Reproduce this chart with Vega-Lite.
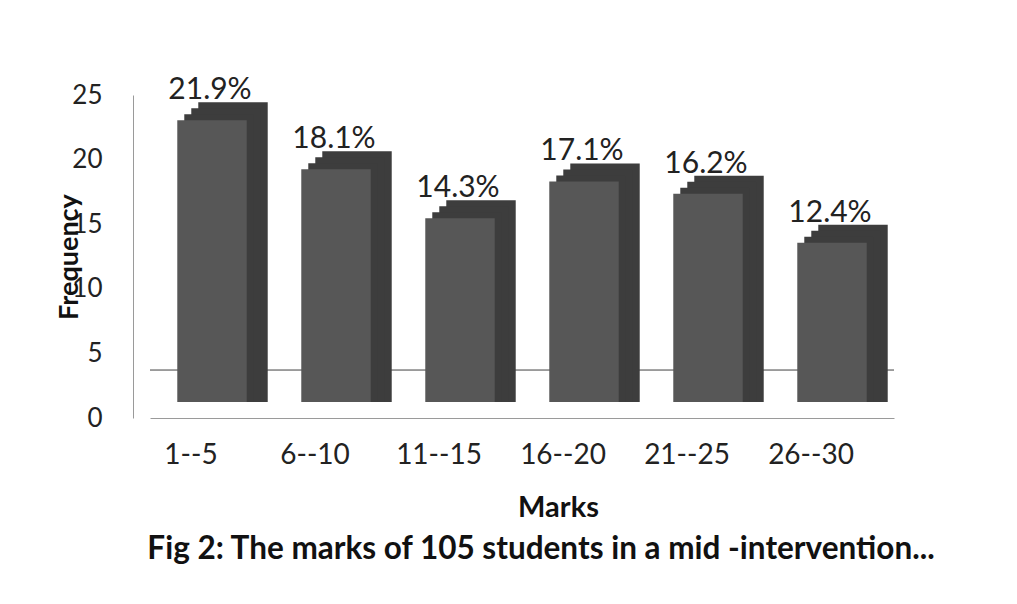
{
  "$schema": "https://vega.github.io/schema/vega-lite/v6.json",
  "width": 744,
  "height": 323,
  "autosize": {"type": "none"},
  "padding": {"left": 150, "top": 95, "right": 123, "bottom": 186},
  "background": "white",
  "config": {"view": {"stroke": null}, "font": "Lato"},
  "data": {
    "values": [
      {"marks": "1--5", "freq": 23, "pct": "21.9%"},
      {"marks": "6--10", "freq": 19, "pct": "18.1%"},
      {"marks": "11--15", "freq": 15, "pct": "14.3%"},
      {"marks": "16--20", "freq": 18, "pct": "17.1%"},
      {"marks": "21--25", "freq": 17, "pct": "16.2%"},
      {"marks": "26--30", "freq": 13, "pct": "12.4%"}
    ]
  },
  "title": {
    "text": "Fig 2:  The marks of 105 students in a mid -intervention...",
    "orient": "bottom",
    "anchor": "middle",
    "fontSize": 31.5,
    "fontWeight": "bold",
    "color": "#111111",
    "dx": 19,
    "offset": 12
  },
  "encoding": {
    "x": {
      "field": "marks",
      "type": "nominal",
      "sort": null,
      "scale": {"paddingInner": 0.44, "paddingOuter": 0.22},
      "axis": {
        "title": "Marks",
        "titleFontSize": 29,
        "titleFontWeight": "bold",
        "titleColor": "#111111",
        "titleX": 408,
        "titleY": 98,
        "titleBaseline": "alphabetic",
        "labelAngle": 0,
        "labelFontSize": 28,
        "labelColor": "#222222",
        "labelPadding": 23,
        "labelOffset": -21,
        "ticks": false,
        "domainColor": "#9a9a9a"
      }
    }
  },
  "resolve": {"scale": {"y": "independent"}},
  "layer": [
    {
      "mark": {"type": "rule", "color": "#9a9a9a", "strokeWidth": 1},
      "encoding": {
        "x": null,
        "y": {
          "datum": 3.7,
          "type": "quantitative",
          "scale": {"domain": [0, 25]},
          "axis": {
            "title": "Frequency",
            "titleFontSize": 27,
            "titleFontWeight": "bold",
            "titleColor": "#111111",
            "titleX": -50,
            "values": [0, 5, 10, 15, 20, 25],
            "grid": false,
            "ticks": false,
            "offset": 17,
            "labelPadding": 31,
            "labelFontSize": 26,
            "labelColor": "#222222",
            "domainColor": "#9a9a9a"
          }
        }
      }
    },
    {
      "encoding": {
        "y": {
          "field": "freq",
          "type": "quantitative",
          "scale": {"domain": [-1.31, 25.06], "zero": false, "nice": false},
          "axis": null
        },
        "y2": {"datum": 0}
      },
      "layer": [
        {"mark": {"type": "bar", "color": "#3d3d3d", "xOffset": 21, "yOffset": -18}},
        {"mark": {"type": "bar", "color": "#3d3d3d", "xOffset": 14, "yOffset": -12}},
        {"mark": {"type": "bar", "color": "#3d3d3d", "xOffset": 7, "yOffset": -6}},
        {"mark": {"type": "bar", "color": "#575757"}},
        {
          "mark": {"type": "text", "fontSize": 30, "color": "#222222", "baseline": "alphabetic", "dy": -21, "dx": -2},
          "encoding": {
            "y2": null,
            "text": {"field": "pct", "type": "nominal"}
          }
        }
      ]
    }
  ]
}
